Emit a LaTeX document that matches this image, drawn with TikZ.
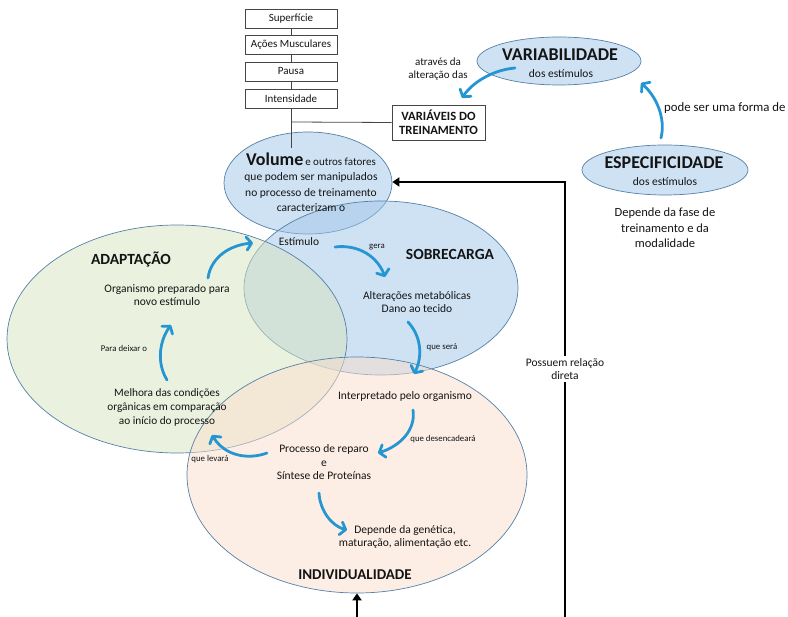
\documentclass[tikz,border=0pt]{standalone}
\usepackage{fontspec}
\setmainfont{Carlito}
\usetikzlibrary{arrows.meta,shapes.geometric}

\definecolor{ellblue}{RGB}{159,197,231}
\definecolor{ellgreen}{RGB}{214,228,190}
\definecolor{ellpeach}{RGB}{250,222,204}
\definecolor{edgeline}{RGB}{84,128,168}
\definecolor{flow}{RGB}{38,150,210}
\definecolor{ink}{RGB}{20,20,20}
\definecolor{boxline}{RGB}{70,70,70}

\tikzset{
  bubble/.style={ellipse, draw=edgeline, line width=0.7pt, fill opacity=0.5, text opacity=1, inner sep=0pt},
  txt/.style={font=\fontsize{11.5}{13.5}\selectfont, align=center, text=ink, inner sep=0pt},
  note/.style={font=\fontsize{8.8}{10}\selectfont, align=center, text=ink, inner sep=0pt},
  title/.style={font=\bfseries\fontsize{15.5}{17}\selectfont, text=ink, inner sep=0pt},
  bigtitle/.style={font=\bfseries\fontsize{18}{20}\selectfont, text=ink, inner sep=0pt},
  varbox/.style={draw=boxline, line width=0.8pt, fill=white, minimum width=92pt, minimum height=19pt, inner sep=0pt, font=\fontsize{11}{12}\selectfont, text=ink},
  flowarrow/.style={draw=flow, line width=2.8pt, line cap=round, -{Straight Barb[length=5pt,width=13pt,round]}},
  link/.style={draw=black, line width=2.6pt, -{Triangle[length=7pt,width=9pt]}},
  stem/.style={draw=boxline, line width=0.8pt}
}

\begin{document}
\begin{tikzpicture}[x=1pt,y=-1pt]
\useasboundingbox (0,0) rectangle (788,617);

% ---- overlapping regions ----
\node[bubble, fill=ellblue, minimum width=168pt, minimum height=102pt] (volume) at (308,183) {};
\node[bubble, fill=ellblue, minimum width=274pt, minimum height=174pt] (sobre) at (381,288) {};
\node[bubble, fill=ellgreen, minimum width=340pt, minimum height=228pt] (adapt) at (177,339) {};
\node[bubble, fill=ellpeach, minimum width=340pt, minimum height=236pt] (indiv) at (357,475) {};

% ---- training variables ----
\coordinate (stemtop) at (291,28);
\coordinate (stemend) at (291,148);
\coordinate (branch) at (291,122);
\draw[stem] (stemtop) -- (stemend);
\node[varbox] (sup) at (291,18.5) {Superfície};
\node[varbox] (acoes) at (291,45) {Ações Musculares};
\node[varbox] (pausa) at (291,71.5) {Pausa};
\node[varbox] (intens) at (291,98.5) {Intensidade};
\node[draw=boxline, line width=0.8pt, fill=white, minimum width=93pt, minimum height=35pt, inner sep=0pt, align=center,
      font=\bfseries\fontsize{12.6}{14.5}\selectfont, text=ink] (variaveis) at (438.5,122.5) {VARIÁVEIS DO\\TREINAMENTO};
\draw[stem] (branch) -- (variaveis.west);

% ---- stimulus principles ----
\node[bubble, fill=ellblue, minimum width=164pt, minimum height=48pt] (variab) at (559,61) {};
\node[bigtitle] (variabt) at (560,55) {VARIABILIDADE};
\node[txt] (variabs) at (561,73.5) {dos estímulos};

\node[bubble, fill=ellblue, minimum width=166pt, minimum height=50pt] (espec) at (665,170) {};
\node[bigtitle] (espect) at (664,163) {ESPECIFICIDADE};
\node[txt] (specs) at (665,181.5) {dos estímulos};
\node[txt, font=\fontsize{12.5}{15.5}\selectfont] (fase) at (665,228) {Depende da fase de\\treinamento e da\\modalidade};

\node[txt, font=\fontsize{11}{13}\selectfont] (atraves) at (438,69) {através da\\alteração das};
\node[txt, font=\fontsize{12.8}{14}\selectfont, anchor=west] (forma) at (664,108) {pode ser uma forma de};

\coordinate (a1s) at (515,68);
\coordinate (a1e) at (462,98);
\draw[flowarrow] (a1s) .. controls (492,70) and (472,83) .. (a1e);
\coordinate (a2s) at (661,138);
\coordinate (a2e) at (641,83);
\draw[flowarrow] (a2s) .. controls (666,118) and (656,96) .. (a2e);

% ---- volume ----
\node[txt, font=\fontsize{11.5}{15.5}\selectfont] (voltxt) at (311,182)
  {{\bfseries\fontsize{18}{18}\selectfont Volume}\,{\fontsize{11}{12}\selectfont e outros fatores}\\que podem ser manipulados\\no processo de treinamento\\caracterizam o};

% ---- overload ----
\node[txt] (estimulo) at (299,242) {Estímulo};
\node[title] (sobret) at (450,254) {SOBRECARGA};
\node[note] (gera) at (377,247) {gera};
\node[txt, font=\fontsize{11.5}{12.5}\selectfont] (alter) at (417,302) {Alterações metabólicas\\Dano ao tecido};
\node[note] (sera) at (442,347) {que será};
\coordinate (g1) at (335,247);
\coordinate (g2) at (385,277);
\draw[flowarrow] (g1) .. controls (360,244) and (378,258) .. (g2);
\coordinate (s1) at (408,322);
\coordinate (s2) at (414,374);
\draw[flowarrow] (s1) .. controls (421,336) and (423,356) .. (s2);

% ---- adaptation ----
\node[title] (adaptt) at (131,259) {ADAPTAÇÃO};
\node[txt] (prep) at (167,295) {Organismo preparado para\\novo estímulo};
\node[note] (deixar) at (124,348) {Para deixar o};
\node[txt, font=\fontsize{11.3}{14}\selectfont] (melhora) at (167,407) {Melhora das condições\\orgânicas em comparação\\ao início do processo};
\coordinate (p1) at (208,278);
\coordinate (p2) at (253,243);
\draw[flowarrow] (p1) .. controls (211,257) and (230,245) .. (p2);
\coordinate (m1) at (167,380);
\coordinate (m2) at (171,325);
\draw[flowarrow] (m1) .. controls (156,362) and (160,340) .. (m2);

% ---- individuality ----
\node[txt] (interp) at (405,396) {Interpretado pelo organismo};
\node[note] (desenc) at (443,439) {que desencadeará};
\node[txt, font=\fontsize{11.5}{13.5}\selectfont] (reparo) at (324,462.5) {Processo de reparo\\e\\Síntese de Proteínas};
\node[note] (levara) at (210,459) {que levará};
\node[txt, font=\fontsize{11.5}{13}\selectfont] (genet) at (405,536.5) {Depende da genética,\\maturação, alimentação etc.};
\node[title, font=\bfseries\fontsize{15}{17}\selectfont] (indivt) at (355,575) {INDIVIDUALIDADE};
\coordinate (d1) at (413,410);
\coordinate (d2) at (378,453);
\draw[flowarrow] (d1) .. controls (416,430) and (400,446) .. (d2);
\coordinate (l1) at (267,453);
\coordinate (l2) at (212,435);
\draw[flowarrow] (l1) .. controls (248,460) and (225,456) .. (l2);
\coordinate (r1) at (319,493);
\coordinate (r2) at (347,530);
\draw[flowarrow] (r1) .. controls (320,511) and (332,526) .. (r2);

% ---- direct relation link ----
\coordinate (linkfoot) at (565,617);
\coordinate (linkcorner) at (565,182);
\coordinate (indfoot) at (357,617);
\draw[link] (linkfoot) -- (linkcorner) -- (volume.east |- linkcorner);
\node[txt, fill=white, inner sep=2pt, font=\fontsize{11.5}{13.5}\selectfont] (relacao) at (565,369) {Possuem relação\\direta};
\draw[link] (indfoot) -- (indiv.south);
\end{tikzpicture}
\end{document}
